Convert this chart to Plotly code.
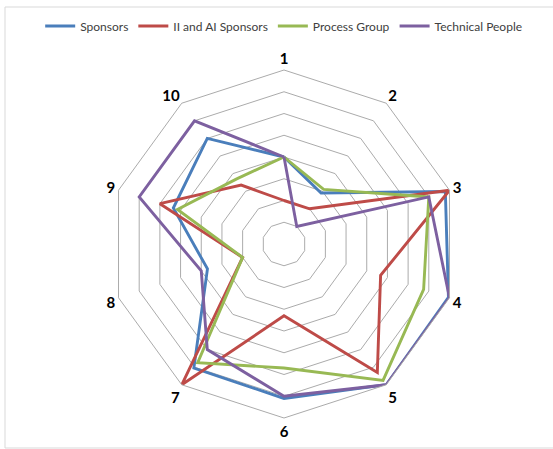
import plotly.graph_objects as go

W, H = 553, 449

categories = ["1", "2", "3", "4", "5", "6", "7", "8", "9", "10"]

sponsors = [4.0, 2.9, 7.8, 7.95, 8.0, 7.1, 7.05, 3.7, 5.35, 6.0]
ii_ai_sponsors = [2.0, 2.0, 8.0, 4.67, 7.3, 3.3, 8.0, 2.0, 6.0, 3.35]
process_group = [4.0, 3.1, 7.0, 6.75, 7.75, 5.7, 6.75, 2.0, 5.15, 3.7]
technical_people = [4.0, 1.0, 7.0, 8.0, 8.0, 7.0, 6.0, 4.0, 7.0, 7.0]

series = [
    ("Sponsors", sponsors, "#4A7EBB"),
    ("II and AI Sponsors", ii_ai_sponsors, "#BE4B48"),
    ("Process Group", process_group, "#98B954"),
    ("Technical People", technical_people, "#7D60A0"),
]

fig = go.Figure()
for name, vals, color in series:
    fig.add_trace(go.Scatterpolar(
        r=vals + vals[:1],
        theta=categories + categories[:1],
        mode="lines",
        name=name,
        line=dict(color=color, width=2.9),
    ))

# polar plot placed so the outer ring has radius 174 px around (284, 244)
cx, cy, rad = 284, 244, 174
dom_x = [(cx - rad) / W, (cx + rad) / W]
dom_y = [(H - cy - rad) / H, (H - cy + rad) / H]

fig.update_layout(
    width=W, height=H,
    margin=dict(l=0, r=0, t=0, b=0),
    paper_bgcolor="white",
    plot_bgcolor="white",
    font=dict(family="Lato, Liberation Sans, sans-serif", color="#404040"),
    showlegend=True,
    legend=dict(
        orientation="h",
        x=0.513, xanchor="center",
        y=1 - 26 / H, yanchor="middle",
        font=dict(size=12, color="#404040"),
        itemwidth=30,
        tracegroupgap=0,
    ),
    polar=dict(
        domain=dict(x=dom_x, y=dom_y),
        gridshape="linear",
        bgcolor="white",
        radialaxis=dict(
            range=[0, 8],
            dtick=1,
            showticklabels=False,
            ticks="",
            showline=False,
            gridcolor="#ABABAB",
            gridwidth=1,
        ),
        angularaxis=dict(
            direction="clockwise",
            rotation=90,
            showgrid=False,
            showline=True,
            linecolor="#ABABAB",
            linewidth=1,
            ticks="",
            tickfont=dict(size=15, color="#000000", family="Lato, Liberation Sans, sans-serif", weight="bold"),
        ),
    ),
    shapes=[
        dict(type="rect", xref="paper", yref="paper",
             x0=5 / W, x1=1.02, y0=(H - 448) / H, y1=(H - 7) / H,
             line=dict(color="#D9D9D9", width=1), fillcolor="rgba(0,0,0,0)"),
    ],
)

fig.write_html("out.html")
